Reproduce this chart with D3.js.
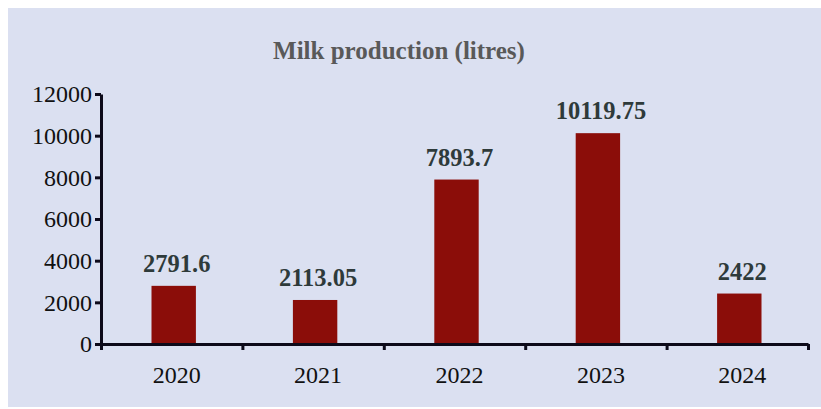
<!DOCTYPE html>
<html>
<head>
<meta charset="utf-8">
<script src="https://cdn.jsdelivr.net/npm/d3@7"></script>
<style>
    body { margin: 0; background: #ffffff; }
    svg { display: block; }
</style>
</head>
<body>
<svg width="821" height="409"></svg>
<script>
// Данные графика
const years = ["2020", "2021", "2022", "2023", "2024"];
const milk = [2791.6, 2113.05, 7893.7, 10119.75, 2422];
const labels = ["2791.6", "2113.05", "7893.7", "10119.75", "2422"];
const yTicks = [0, 2000, 4000, 6000, 8000, 10000, 12000];

const svg = d3.select("svg");

// Параметры области графика
const area = { left: 101, right: 808, top: 94, bottom: 344 };

// Фон
svg.append("rect")
    .attr("x", 8).attr("y", 8)
    .attr("width", 813).attr("height", 399)
    .attr("fill", "#dbe0f1");

// Заголовок
svg.append("text")
    .attr("x", 399).attr("y", 59)
    .attr("text-anchor", "middle")
    .style("font-family", "'Liberation Serif', 'Times New Roman', serif")
    .style("font-weight", "bold")
    .style("font-size", "25px")
    .attr("fill", "#595959")
    .text("Milk production (litres)");

// Шкалы
const scX = d3.scaleBand()
    .domain(years)
    .range([area.left, area.right])
    .paddingInner(0.686)
    .paddingOuter(0.343);

const scY = d3.scaleLinear()
    .domain([0, 12000])
    .range([area.bottom, area.top]);

// Столбцы
svg.selectAll(".bar")
    .data(years)
    .enter()
    .append("rect")
    .attr("class", "bar")
    .attr("x", (d, i) => scX(d) + 2)
    .attr("y", (d, i) => scY(milk[i]))
    .attr("width", scX.bandwidth())
    .attr("height", (d, i) => scY(0) - scY(milk[i]))
    .attr("fill", "#8b0d09");

// Подписи значений
svg.selectAll(".val")
    .data(years)
    .enter()
    .append("text")
    .attr("class", "val")
    .attr("x", (d, i) => scX(d) + scX.bandwidth() / 2 + 5)
    .attr("y", (d, i) => scY(milk[i]) - 14)
    .attr("text-anchor", "middle")
    .style("font-family", "'Liberation Serif', 'Times New Roman', serif")
    .style("font-weight", "bold")
    .style("font-size", "24.5px")
    .attr("fill", "#2e3a3a")
    .text((d, i) => labels[i]);

// Ось Y
const axisY = d3.axisLeft(scY)
    .tickValues(yTicks)
    .tickSize(6)
    .tickPadding(3)
    .tickSizeOuter(0)
    .tickFormat(d => String(d));

const gY = svg.append("g")
    .attr("transform", `translate(${area.left}, 0)`)
    .call(axisY);

// Ось X: деления на границах категорий
const gX = svg.append("g")
    .attr("transform", `translate(0, ${area.bottom})`);

const scXLine = d3.scaleLinear().domain([0, years.length]).range([area.left, area.right]);

const axisX = d3.axisBottom(scXLine)
    .ticks(years.length)
    .tickSize(6)
    .tickSizeOuter(0)
    .tickFormat("");
gX.call(axisX);

gX.selectAll(".cat")
    .data(years)
    .enter()
    .append("text")
    .attr("class", "cat")
    .attr("x", d => scX(d) + scX.bandwidth() / 2 + 5)
    .attr("y", 39)
    .attr("text-anchor", "middle")
    .style("font-family", "'Liberation Serif', 'Times New Roman', serif")
    .style("font-size", "24px")
    .attr("fill", "#111111")
    .text(d => d);

// Стили осей
[gX, gY].forEach(g => {
    g.select(".domain").attr("stroke", "#0d0a1a").attr("stroke-width", 3);
    g.selectAll(".tick line").attr("stroke", "#0d0a1a").attr("stroke-width", 3);
});
gY.selectAll(".tick text")
    .style("font-family", "'Liberation Serif', 'Times New Roman', serif")
    .style("font-size", "24px")
    .attr("fill", "#111111");
</script>
</body>
</html>
